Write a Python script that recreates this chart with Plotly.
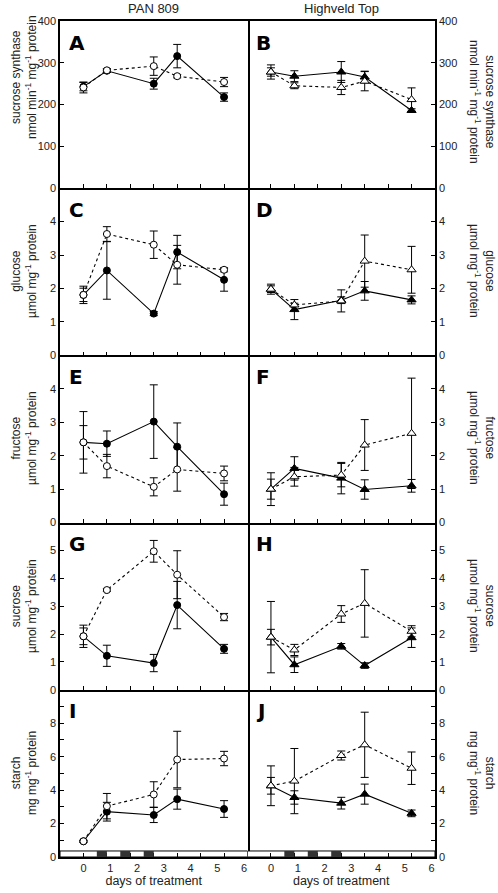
import plotly.graph_objects as go
from plotly.subplots import make_subplots

days = [0, 0.875, 2.625, 3.5, 5.25]
cultivars = ["PAN 809", "Highveld Top"]
panel_letters = ["A", "B", "C", "D", "E", "F", "G", "H", "I", "J"]
y_titles = [
    "sucrose synthase<br>nmol min<sup>-1</sup> mg<sup>-1</sup> protein",
    "glucose<br>µmol mg<sup>-1</sup> protein",
    "fructose<br>µmol mg<sup>-1</sup> protein",
    "sucrose<br>µmol mg<sup>-1</sup> protein",
    "starch<br>mg mg<sup>-1</sup> protein",
]

# sucrose synthase
pan_ss_filled = [243, 281, 250, 316, 218]
pan_ss_filled_err = [10, 4, 13, 28, 10]
pan_ss_open = [241, 282, 292, 268, 254]
pan_ss_open_err = [13, 4, 22, 4, 11]
hv_ss_filled = [278, 268, 278, 266, 186]
hv_ss_filled_err = [10, 13, 25, 14, 4]
hv_ss_open = [278, 245, 241, 256, 212]
hv_ss_open_err = [17, 7, 17, 23, 28]

# glucose
pan_glc_filled = [1.81, 2.54, 1.25, 3.09, 2.26]
pan_glc_filled_err = [0.2, 0.86, 0.06, 0.5, 0.34]
pan_glc_open = [1.81, 3.63, 3.31, 2.71, 2.56]
pan_glc_open_err = [0.26, 0.22, 0.41, 0.58, 0.06]
hv_glc_filled = [1.98, 1.37, 1.65, 1.93, 1.66]
hv_glc_filled_err = [0.1, 0.3, 0.1, 0.28, 0.12]
hv_glc_open = [1.98, 1.51, 1.63, 2.82, 2.56]
hv_glc_open_err = [0.15, 0.05, 0.33, 0.78, 0.7]

# fructose
pan_fru_filled = [2.4, 2.36, 3.02, 2.27, 0.85]
pan_fru_filled_err = [0.5, 0.38, 1.1, 0.71, 0.33]
pan_fru_open = [2.4, 1.69, 1.07, 1.59, 1.47]
pan_fru_open_err = [0.92, 0.35, 0.27, 0.65, 0.22]
hv_fru_filled = [1.0, 1.62, 1.33, 0.99, 1.1]
hv_fru_filled_err = [0.3, 0.35, 0.47, 0.29, 0.19]
hv_fru_open = [1.0, 1.37, 1.42, 2.32, 2.67]
hv_fru_open_err = [0.49, 0.28, 0.35, 0.76, 1.65]

# sucrose
pan_suc_filled = [1.92, 1.22, 0.96, 3.04, 1.47]
pan_suc_filled_err = [0.3, 0.38, 0.31, 0.85, 0.16]
pan_suc_open = [1.92, 3.58, 4.97, 4.13, 2.61]
pan_suc_open_err = [0.4, 0.05, 0.39, 0.86, 0.13]
hv_suc_filled = [1.89, 0.9, 1.56, 0.87, 1.87]
hv_suc_filled_err = [0.28, 0.28, 0.1, 0.1, 0.35]
hv_suc_open = [1.89, 1.43, 2.72, 3.1, 2.1]
hv_suc_open_err = [1.28, 0.2, 0.3, 1.21, 0.2]

# starch
pan_sta_filled = [0.94, 2.71, 2.51, 3.46, 2.87]
pan_sta_filled_err = [0.06, 0.56, 0.45, 0.6, 0.5]
pan_sta_open = [0.94, 3.04, 3.74, 5.83, 5.89]
pan_sta_open_err = [0.06, 0.76, 0.76, 1.69, 0.43]
hv_sta_filled = [4.26, 3.56, 3.22, 3.76, 2.61]
hv_sta_filled_err = [0.5, 0.4, 0.35, 0.6, 0.2]
hv_sta_open = [4.26, 4.54, 6.07, 6.71, 5.31]
hv_sta_open_err = [1.19, 1.95, 0.27, 1.95, 0.97]

y_ranges = [[0, 400], [0, 5], [0, 5], [0, 6], [0, 10]]
y_tickvals = [[0, 100, 200, 300, 400], [0, 1, 2, 3, 4], [0, 1, 2, 3, 4],
              [0, 1, 2, 3, 4, 5], [0, 2, 4, 6, 8]]
x_labels = [0, 1, 2, 3, 4, 5, 6]
sample_ticks = [0, 0.875, 1.75, 2.625, 3.5, 4.375, 5.25]
nights = [[0.5, 0.875], [1.375, 1.75], [2.25, 2.625]]
bar_height = 0.36

data = [
    [(pan_ss_filled, pan_ss_filled_err, pan_ss_open, pan_ss_open_err),
     (hv_ss_filled, hv_ss_filled_err, hv_ss_open, hv_ss_open_err)],
    [(pan_glc_filled, pan_glc_filled_err, pan_glc_open, pan_glc_open_err),
     (hv_glc_filled, hv_glc_filled_err, hv_glc_open, hv_glc_open_err)],
    [(pan_fru_filled, pan_fru_filled_err, pan_fru_open, pan_fru_open_err),
     (hv_fru_filled, hv_fru_filled_err, hv_fru_open, hv_fru_open_err)],
    [(pan_suc_filled, pan_suc_filled_err, pan_suc_open, pan_suc_open_err),
     (hv_suc_filled, hv_suc_filled_err, hv_suc_open, hv_suc_open_err)],
    [(pan_sta_filled, pan_sta_filled_err, pan_sta_open, pan_sta_open_err),
     (hv_sta_filled, hv_sta_filled_err, hv_sta_open, hv_sta_open_err)],
]

FONT = "Liberation Sans, Arial, sans-serif"
TXT = "#222222"
W, H = 498, 893
ML, MR, MT, MB = 60, 63, 21, 36

fig = make_subplots(rows=5, cols=2, horizontal_spacing=0, vertical_spacing=0)

for r in range(5):
    for c in range(2):
        f, fe, o, oe = data[r][c]
        sym = "circle" if c == 0 else "triangle-up"
        msize = 7 if c == 0 else 8
        eb = dict(type="data", visible=True, color="black", thickness=1, width=4)
        fig.add_trace(go.Scatter(
            x=days, y=f, mode="lines+markers",
            line=dict(color="black", width=1.1),
            marker=dict(symbol=sym, size=msize, color="black",
                        line=dict(color="black", width=1)),
            error_y=dict(array=fe, **eb), showlegend=False),
            row=r + 1, col=c + 1)
        fig.add_trace(go.Scatter(
            x=days, y=o, mode="lines+markers",
            line=dict(color="black", width=1.1, dash="dot"),
            marker=dict(symbol=sym, size=msize, color="white",
                        line=dict(color="black", width=1)),
            error_y=dict(array=oe, **eb), showlegend=False),
            row=r + 1, col=c + 1)

        xa = dict(
            range=[-0.875, 6.125], automargin=False,
            showline=True, linecolor="black", linewidth=1.5, mirror=(r == 0),
            showgrid=False, zeroline=False,
            tickmode="array", tickvals=x_labels, ticks="",
            showticklabels=(r == 4),
            tickfont=dict(family=FONT, size=11, color=TXT),
            minor=dict(tickmode="array", tickvals=sample_ticks, ticks="inside",
                       ticklen=4, tickcolor="black", tickwidth=1, showgrid=False),
        )
        if r == 4:
            xa["title"] = dict(text="days of treatment",
                               font=dict(family=FONT, size=12.5, color=TXT), standoff=2)
        fig.update_xaxes(row=r + 1, col=c + 1, **xa)
        minor = dict(ticks="")
        if r == 4:
            minor = dict(tickmode="array", tickvals=[1, 3, 5, 7, 9], ticks="inside",
                         ticklen=4, tickcolor="black", tickwidth=1, showgrid=False)
        fig.update_yaxes(
            row=r + 1, col=c + 1, range=y_ranges[r], automargin=False,
            side="left" if c == 0 else "right",
            showline=True, linecolor="black", linewidth=1.5, mirror=(c == 0),
            showgrid=False, zeroline=False,
            tickmode="array", tickvals=y_tickvals[r],
            ticks="inside", ticklen=4, tickcolor="black", tickwidth=1,
            tickfont=dict(family=FONT, size=11, color=TXT),
            minor=minor,
        )
        idx = r * 2 + c
        xr = "x" if idx == 0 else f"x{idx + 1}"
        yr = "y" if idx == 0 else f"y{idx + 1}"
        fig.add_annotation(
            text="<b>%s</b>" % panel_letters[idx], xref=xr + " domain", yref=yr + " domain",
            x=0.035, y=0.955, xanchor="left", yanchor="top", showarrow=False,
            font=dict(family="DejaVu Sans, " + FONT, size=20, color="black"))

# day/night bar in starch panels
for c, (xr, yr) in enumerate([("x9", "y9"), ("x10", "y10")]):
    fig.add_shape(type="rect", xref=xr, yref=yr, x0=-0.875, x1=6.125, y0=0, y1=bar_height,
                  line=dict(color="black", width=1), fillcolor="white", layer="below")
    for n0, n1 in nights:
        fig.add_shape(type="rect", xref=xr, yref=yr, x0=n0, x1=n1, y0=0, y1=bar_height,
                      line=dict(width=0), fillcolor="#333333", layer="above")

pw = W - ML - MR
ph = H - MT - MB
# column titles
for c, name in enumerate(cultivars):
    xpx = ML + pw * (0.25 + 0.5 * c)
    fig.add_annotation(text=name, xref="paper", yref="paper",
                       x=(xpx - ML) / pw, y=1 + 13 / ph, xanchor="center", yanchor="middle",
                       showarrow=False, font=dict(family=FONT, size=13, color=TXT))

# y titles
left_centers = [77, 271, 438, 606, 773]
right_centers = [102, 271, 438, 606, 773]
for r in range(5):
    fig.add_annotation(text=y_titles[r], xref="paper", yref="paper",
                       x=(24 - ML) / pw, y=1 - (left_centers[r] - MT) / ph,
                       xanchor="center", yanchor="middle", textangle=-90, showarrow=False,
                       font=dict(family=FONT, size=12, color=TXT))
    fig.add_annotation(text=y_titles[r], xref="paper", yref="paper",
                       x=(482 - ML) / pw, y=1 - (right_centers[r] - MT) / ph,
                       xanchor="center", yanchor="middle", textangle=90, showarrow=False,
                       font=dict(family=FONT, size=12, color=TXT))

fig.update_layout(
    template="none",
    width=W, height=H, margin=dict(l=ML, r=MR, t=MT, b=MB, autoexpand=False),
    paper_bgcolor="white", plot_bgcolor="white", showlegend=False,
    font=dict(family=FONT, color=TXT),
)

fig.write_html("out.html", config={"displayModeBar": False},
               post_script="document.body.style.margin='0';document.body.style.overflow='hidden';")
